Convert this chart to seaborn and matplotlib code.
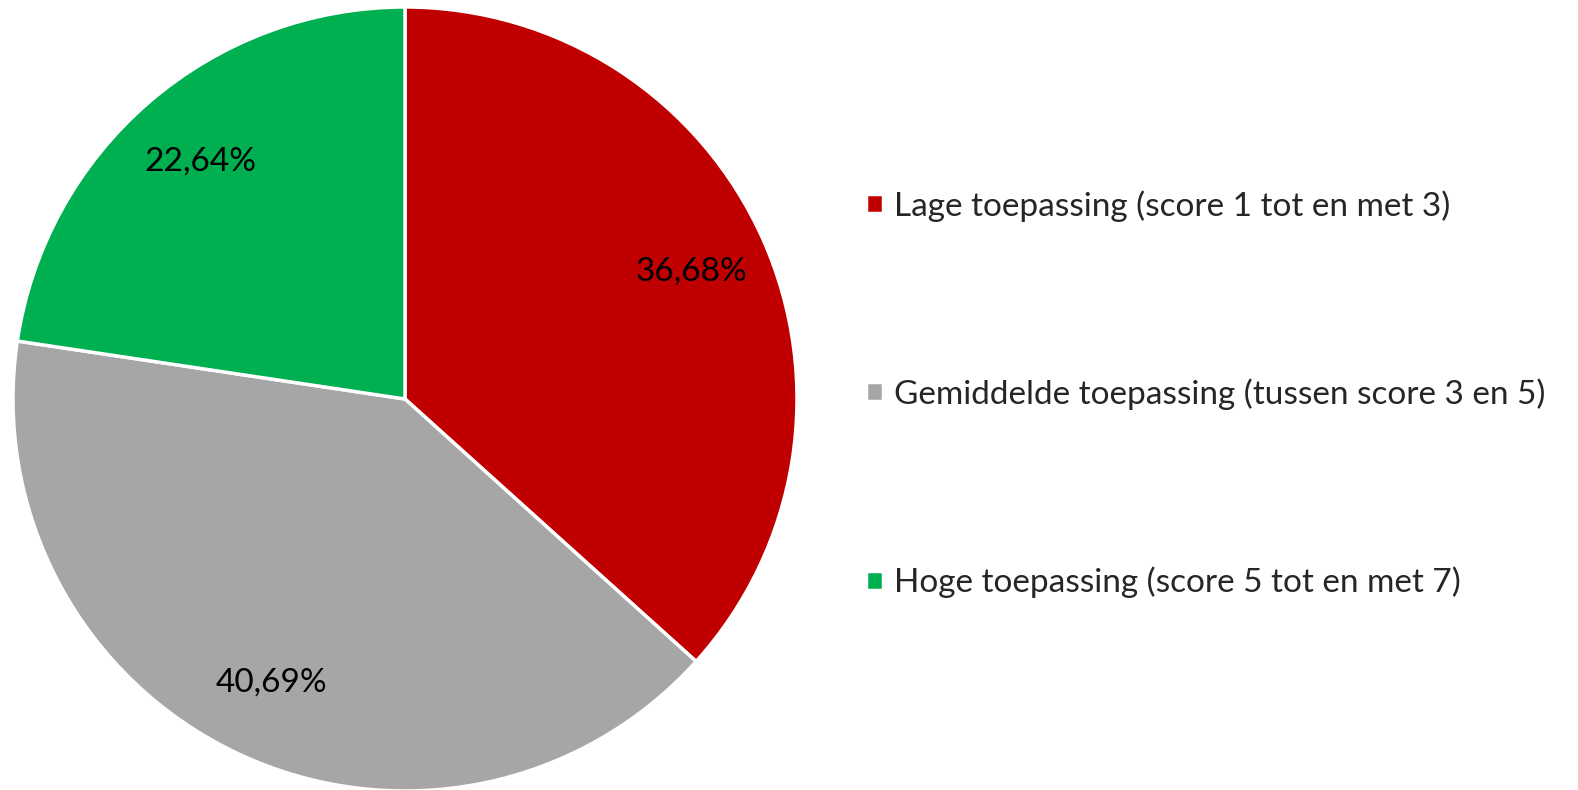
import matplotlib
matplotlib.use("Agg")
import matplotlib.pyplot as plt
import seaborn as sns

categories = ["Lage toepassing (score 1 tot en met 3)",
              "Gemiddelde toepassing (tussen score 3 en 5)",
              "Hoge toepassing (score 5 tot en met 7)"]
values = [36.68, 40.69, 22.64]
colors = ["#C00000", "#A6A6A6", "#00B050"]

sns.set_theme(style="white")
plt.rcParams['font.family'] = ['Lato', 'DejaVu Sans']

W, H = 1578, 790
fig = plt.figure(figsize=(W / 100, H / 100), dpi=100)
cx, cy, r = 405, 399, 392
ax = fig.add_axes([(cx - r) / W, (H - cy - r) / H, 2 * r / W, 2 * r / H])

wedges, texts, autotexts = ax.pie(
    values, colors=sns.color_palette(colors), startangle=90, counterclock=False,
    autopct=lambda p: f"{p:.2f}%".replace(".", ","), pctdistance=0.80,
    wedgeprops=dict(edgecolor="white", linewidth=2.5),
    textprops=dict(fontsize=24, color="black"))
ax.set_aspect("equal")
ax.set_xlim(-1, 1)
ax.set_ylim(-1, 1)

leg = fig.legend(wedges, categories, loc="center left",
                 bbox_to_anchor=(836 / W, 1 - 394 / H), frameon=False,
                 fontsize=24, handlelength=0.5, handleheight=0.5,
                 handletextpad=0.35, labelspacing=4.7)

fig.savefig("out.png", dpi=100)
